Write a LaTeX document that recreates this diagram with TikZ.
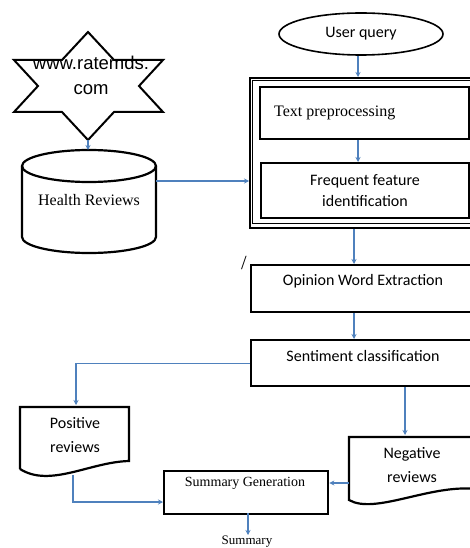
\documentclass[tikz,border=0pt]{standalone}
\usepackage{fontspec}
\setmainfont{Carlito}
\newfontfamily\arialf{Liberation Sans}
\newfontfamily\serf{Liberation Serif}
\usetikzlibrary{arrows.meta,calc,shapes.geometric}
\definecolor{linkblue}{HTML}{4F81BD}
\begin{document}
\begin{tikzpicture}[x=1pt,y=-1pt,
  box/.style={draw, line width=2.3pt, inner sep=0pt, anchor=north west},
  link/.style={draw=linkblue, line width=1.1pt, -{Stealth[length=5pt,width=5pt]}},
  lbl/.style={font=\fontsize{16}{24}\selectfont, align=center, inner sep=0pt}]
\useasboundingbox (0,0) rectangle (470,548);
\clip (0,0) rectangle (470,548);
\fill[white] (0,0) rectangle (470,548);
% star
\draw[line width=2pt, line join=miter] (88,32) -- (114,60) -- (163,60) -- (139,86) -- (163,112) -- (114,112) -- (88,140) -- (62,112) -- (14,112) -- (38,86) -- (14,60) -- (62,60) -- cycle;
\node[inner sep=0pt, align=center, font=\arialf\fontsize{18.5}{25}\selectfont] (star) at (91,75.5) {www.ratemds.\\com};
% cylinder
\draw[line width=2.2pt] (89,166) ellipse [x radius=67pt, y radius=16pt];
\draw[line width=2.2pt] (22,166) -- (22,237) arc[start angle=180, end angle=360, x radius=67pt, y radius=16pt] -- (156,166);
\node[inner sep=0pt, font=\serf\fontsize{16}{20}\selectfont] (cyl) at (89,200) {Health Reviews};
\coordinate (stb) at (88,140);
\coordinate (cyt) at (88,150);
\coordinate (cyr) at (156,181);
% user query
\node[draw, ellipse, line width=1.6pt, minimum width=164pt, minimum height=42pt, inner sep=0pt] (uq) at (361,34) {};
\node[lbl] (uqt) at (361,34) {User query};
% outer box
\node[box, minimum width=229pt, minimum height=150pt] (outer) at (249,77) {};
\draw[line width=0.9pt] (252.5,80.5) rectangle (476,223.5);
\node[box, minimum width=209pt, minimum height=52pt] (tp) at (259,86) {};
\node[inner sep=0pt, anchor=west, font=\serf\fontsize{16}{20}\selectfont] (tpt) at (274,113) {Text preprocessing};
\node[box, minimum width=208pt, minimum height=55pt] (ff) at (260,162) {};
\node[lbl, font=\fontsize{16}{21}\selectfont] (fft) at (365,190.5) {Frequent feature\\identification};
% slash
\node[inner sep=0pt, font=\serf\fontsize{20}{20}\selectfont] (slash) at (244,263) {/};
% opinion / sentiment
\node[box, minimum width=226pt, minimum height=47pt] (ow) at (250,264) {};
\node[lbl] (owt) at (363,281) {Opinion Word Extraction};
\node[box, minimum width=226pt, minimum height=46pt] (sc) at (250,339) {};
\node[lbl] (sct) at (363,356) {Sentiment classification};
% positive document
\draw[line width=2.2pt, line join=miter] (20,469) -- (20,407) -- (129,407) -- (129,461) .. controls (90,462) and (50,488) .. (20,469);
\node[lbl] (pos) at (75,435) {Positive\\reviews};
\coordinate (posn) at (76,405);
\coordinate (poss) at (73,475);
% negative document
\draw[line width=2.2pt, line join=miter] (476,489) .. controls (430,484) and (375,515) .. (349,500) -- (349,437) -- (476,437);
\node[lbl] (neg) at (412,465) {Negative\\reviews};
\coordinate (negw) at (349,483);
\coordinate (negn) at (405,435);
% summary generation
\node[box, minimum width=164pt, minimum height=43pt] (sg) at (163,470) {};
\node[inner sep=0pt, font=\serf\fontsize{14}{16}\selectfont] (sgt) at (245,483) {Summary Generation};
\node[inner sep=0pt, anchor=base, font=\serf\fontsize{13}{15}\selectfont] (summ) at (247,544) {Summary};
\coordinate (x358) at (358,0);
\coordinate (x354) at (354,0);
\coordinate (x405) at (405,0);
\coordinate (y502) at (0,502);
\coordinate (sgb) at (248,513);
\coordinate (sumt) at (248,535);
% connectors
\draw[link] (stb) -- (cyt);
\draw[link] (cyr) -- (outer.west |- cyr);
\draw[link] (uq.south -| x358) -- (outer.north -| x358);
\draw[link] (tp.south -| x358) -- (ff.north -| x358);
\draw[link] (outer.south -| x354) -- (ow.north -| x354);
\draw[link] (ow.south -| x354) -- (sc.north -| x354);
\draw[link] (sc.west) -| (posn);
\draw[link] (sc.south -| x405) -- (negn);
\draw[link] (poss) |- (sg.west |- y502);
\draw[link] (negw) -- (sg.east |- negw);
\draw[link] (sgb) -- (sumt);
\end{tikzpicture}
\end{document}
